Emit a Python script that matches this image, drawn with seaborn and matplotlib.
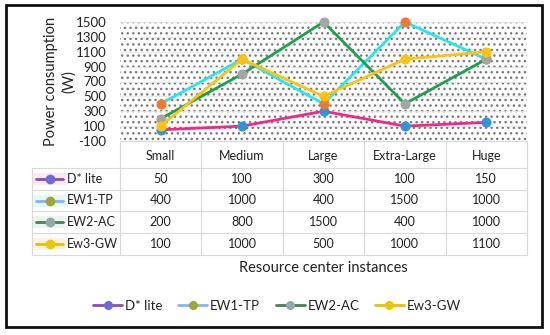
import pandas as pd
import matplotlib.pyplot as plt
import seaborn as sns
from matplotlib.lines import Line2D
from matplotlib.patches import Rectangle

sizes = ["Small", "Medium", "Large", "Extra-Large", "Huge"]
series_names = ["D* lite", "EW1-TP", "EW2-AC", "Ew3-GW"]
d_lite = [50, 100, 300, 100, 150]
ew1_tp = [400, 1000, 400, 1500, 1000]
ew2_ac = [200, 800, 1500, 400, 1000]
ew3_gw = [100, 1000, 500, 1000, 1100]
y_ticks = list(range(-100, 1501, 200))

all_values = [d_lite, ew1_tp, ew2_ac, ew3_gw]
line_colors = ["#F0288C", "#22E8F0", "#17A34A", "#FFC20E"]
marker_colors = ["#2E95DA", "#F27830", "#A5A5A5", "#FFC20E"]
# the legend keys in the excel chart use other colours
key_line_colors = ["#8E4FA0", "#86B4EE", "#4D7E50", "#E2C200"]
key_marker_colors = ["#6B6BDA", "#A0A631", "#93A9A9", "#E8C800"]
key_bg_colors = ["#FCE8F3", "#E2F9FA", "#EAF5EC", "#FFF1E6"]

rows = []
for name, vals in zip(series_names, all_values):
    for s, v in zip(sizes, vals):
        rows.append({"size": s, "series": name, "power": v})
df = pd.DataFrame(rows)

sns.set_style("white")
plt.rcParams["font.family"] = ["Lato", "DejaVu Sans"]
plt.rcParams["hatch.color"] = "#7a7a7a"
plt.rcParams["hatch.linewidth"] = 1.0

W, H = 550, 335
fig = plt.figure(figsize=(5.5, 3.35), dpi=100)

# plot area (pixel layout converted to figure fractions)
left, right, top, bottom = 120, 527, 22, 141
ax = fig.add_axes([left / W, 1 - bottom / H, (right - left) / W, (bottom - top) / H])
ax.add_patch(Rectangle((0, 0), 1, 1, transform=ax.transAxes, facecolor="white",
                       edgecolor="#7a7a7a", hatch="...", lw=0, zorder=0))
for yt in y_ticks:
    ax.axhline(yt, color="#e6e6e6", lw=0.6, zorder=0.5)

for name, lc, mc in zip(series_names, line_colors, marker_colors):
    sns.lineplot(data=df[df["series"] == name], x="size", y="power", ax=ax,
                 color=lc, lw=2.0, marker="o", markersize=6.5,
                 markerfacecolor=mc, markeredgecolor=mc, sort=False, zorder=3,
                 clip_on=False)

ax.set_xlim(-0.5, len(sizes) - 0.5)
ax.set_ylim(-100, 1500)
ax.set_yticks(y_ticks)
ax.set_yticklabels([str(t) for t in y_ticks], fontsize=9.5, color="#222222")
ax.set_xticks([])
ax.tick_params(axis="y", length=0, pad=10)
ax.set_xlabel("")
ax.set_ylabel("Power consumption\n(W)", fontsize=10.5, color="#222222",
              linespacing=1.3)
ax.yaxis.set_label_coords(-0.108, 0.5)
if ax.get_legend():
    ax.get_legend().remove()
for sp in ax.spines.values():
    sp.set_visible(False)

# overlay in pixel coordinates for table, labels and frame
ov = fig.add_axes([0, 0, 1, 1])
ov.set_xlim(0, W)
ov.set_ylim(H, 0)
ov.axis("off")
ov.patch.set_alpha(0)

grid_c = "#d9d9d9"
col_w = (right - left) / len(sizes)
row_y = [141, 168, 190, 211, 233, 255]
tab_left = 32

# vertical separators
for i in range(len(sizes) + 1):
    x = left + i * col_w
    ov.plot([x, x], [row_y[0], row_y[-1]], color=grid_c, lw=0.8)
ov.plot([tab_left, tab_left], [row_y[1], row_y[-1]], color=grid_c, lw=0.8)
# horizontal lines
ov.plot([left, right], [row_y[0], row_y[0]], color=grid_c, lw=0.8)
for y in row_y[1:]:
    ov.plot([tab_left, right], [y, y], color=grid_c, lw=0.8)

for i, s in enumerate(sizes):
    ov.text(left + (i + 0.5) * col_w, (row_y[0] + row_y[1]) / 2 + 2, s,
            ha="center", va="center", fontsize=9, color="#222222")

for r, (name, vals) in enumerate(zip(series_names, all_values)):
    yc = (row_y[r + 1] + row_y[r + 2]) / 2
    ov.add_patch(Rectangle((tab_left + 1, yc - 6), 33, 12, facecolor=key_bg_colors[r],
                           edgecolor="none"))
    ov.plot([tab_left + 4, tab_left + 31], [yc, yc], color=key_line_colors[r], lw=2)
    ov.plot([tab_left + 18], [yc], "o", color=key_marker_colors[r], ms=6)
    ov.text(tab_left + 35, yc, name, ha="left", va="center", fontsize=9, color="#222222")
    for i, v in enumerate(vals):
        ov.text(left + (i + 0.5) * col_w, yc, str(v), ha="center", va="center",
                fontsize=9, color="#222222")

ov.text(323, 268, "Resource center instances", ha="center", va="center",
        fontsize=10.5, color="#222222")

# frame around the whole chart
ov.add_patch(Rectangle((6, 5), 536, 322, facecolor="none", edgecolor="#111111", lw=2))

handles = []
for r in range(len(series_names)):
    handles.append(Line2D([], [], color=key_line_colors[r], lw=2, marker="o", ms=5.5,
                          markerfacecolor=key_marker_colors[r],
                          markeredgecolor=key_marker_colors[r]))
fig.legend(handles, series_names, loc="center", bbox_to_anchor=(277 / W, 1 - 306 / H),
           ncol=4, frameon=False, fontsize=9.5, handlelength=2.2, handletextpad=0.2,
           columnspacing=1.2, labelcolor="#222222")

fig.savefig("out.png", dpi=100)
